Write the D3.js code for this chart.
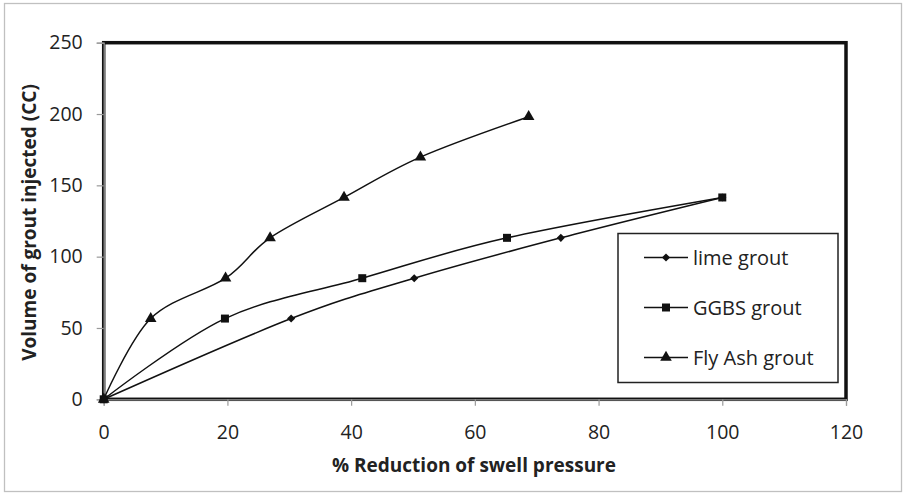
<!DOCTYPE html>
<html>
<head>
<meta charset="utf-8">
<script src="https://cdn.jsdelivr.net/npm/d3@7"></script>
<style>
  html, body { margin: 0; padding: 0; background: #fff; }
  svg { display: block; font-family: "Open Sans", "Noto Sans", sans-serif; }
</style>
</head>
<body>
<svg id="chart" width="911" height="494"></svg>
<script>
// Grout volume versus reduction of swell pressure
const xTicks = [0, 20, 40, 60, 80, 100, 120];
const yTicks = [0, 50, 100, 150, 200, 250];

const limeX = [0, 30.3, 50.2, 73.9, 100];
const limeY = [0, 56.6, 84.9, 113.2, 141.5];

const ggbsX = [0, 19.6, 41.8, 65.2, 100];
const ggbsY = [0, 56.6, 84.9, 113.2, 141.5];

const flyX = [0, 7.6, 19.7, 26.9, 38.85, 51.2, 68.7];
const flyY = [0, 56.6, 84.9, 113.2, 141.5, 169.8, 198.1];

const seriesNames = ["lime grout", "GGBS grout", "Fly Ash grout"];
const seriesSymbols = [d3.symbolDiamond2, d3.symbolSquare, d3.symbolTriangle];
const seriesSizes = [42, 64, 58];

const series = [
  { name: seriesNames[0], xs: limeX, ys: limeY, sym: seriesSymbols[0], size: seriesSizes[0] },
  { name: seriesNames[1], xs: ggbsX, ys: ggbsY, sym: seriesSymbols[1], size: seriesSizes[1] },
  { name: seriesNames[2], xs: flyX, ys: flyY, sym: seriesSymbols[2], size: seriesSizes[2] }
];

const svg = d3.select("#chart");

// outer chart frame
svg.append("rect").attr("x", 4.5).attr("y", 3.5).attr("width", 897).attr("height", 488)
  .attr("fill", "#fff").attr("stroke", "#c0c0c0").attr("stroke-width", 1.3);

const plotL = 103.7, plotR = 846, plotT = 42.7, plotB = 399.3;
const x = d3.scaleLinear().domain([0, 120]).range([plotL, plotR]);
const y = d3.scaleLinear().domain([0, 250]).range([plotB, plotT]);

// plot area border
svg.append("rect").attr("x", plotL).attr("y", plotT).attr("width", plotR - plotL).attr("height", plotB - plotT)
  .attr("fill", "none").attr("stroke", "#111").attr("stroke-width", 3.5);

// axes
const xAxis = d3.axisBottom(x).tickValues(xTicks).tickSize(6.5).tickPadding(19);
const yAxis = d3.axisLeft(y).tickValues(yTicks).tickSize(7).tickPadding(14);

const gx = svg.append("g").attr("transform", `translate(0,${plotB})`).call(xAxis);
const gy = svg.append("g").attr("transform", `translate(${plotL},0)`).call(yAxis);
[gx, gy].forEach(g => {
  g.select(".domain").attr("stroke", "#9a9a9a").attr("stroke-width", 1.2);
  g.selectAll(".tick line").attr("stroke", "#9a9a9a").attr("stroke-width", 1.2);
  g.selectAll(".tick text").attr("font-size", 19.5).attr("fill", "#222")
    .attr("font-family", "'Open Sans', sans-serif");
});
gx.selectAll(".tick text").attr("dy", "0.71em");

// axis titles
svg.append("text").attr("x", 474).attr("y", 472).attr("text-anchor", "middle")
  .attr("font-size", 19).attr("font-weight", "bold").attr("fill", "#222")
  .text("% Reduction of swell pressure");
svg.append("text").attr("transform", "translate(36,222.5) rotate(-90)")
  .attr("text-anchor", "middle").attr("font-size", 19).attr("font-weight", "bold").attr("fill", "#222")
  .text("Volume of grout injected (CC)");

// smoothed series lines and markers
const line = d3.line().x(d => x(d[0])).y(d => y(d[1])).curve(d3.curveCatmullRom.alpha(0));
series.forEach(s => {
  const pts = s.xs.map((v, i) => [v, s.ys[i]]);
  svg.append("path").datum(pts).attr("d", line)
    .attr("fill", "none").attr("stroke", "#111").attr("stroke-width", 1.5);
  svg.append("g").selectAll("path").data(pts).join("path")
    .attr("transform", d => `translate(${x(d[0])},${y(d[1])})`)
    .attr("d", d3.symbol().type(s.sym).size(s.size))
    .attr("fill", "#111");
});

// legend
const lg = svg.append("g");
lg.append("rect").attr("x", 618).attr("y", 233.5).attr("width", 220).attr("height", 149)
  .attr("fill", "#fff").attr("stroke", "#222").attr("stroke-width", 1.5);
series.forEach((s, i) => {
  const yy = 257.5 + i * 50;
  lg.append("line").attr("x1", 644).attr("x2", 688).attr("y1", yy).attr("y2", yy)
    .attr("stroke", "#111").attr("stroke-width", 1.5);
  lg.append("path").attr("transform", `translate(666,${yy})`)
    .attr("d", d3.symbol().type(s.sym).size(s.size)).attr("fill", "#111");
  lg.append("text").attr("x", 693).attr("y", yy).attr("dy", "0.36em")
    .attr("font-size", 20).attr("fill", "#222").text(s.name);
});
</script>
</body>
</html>
